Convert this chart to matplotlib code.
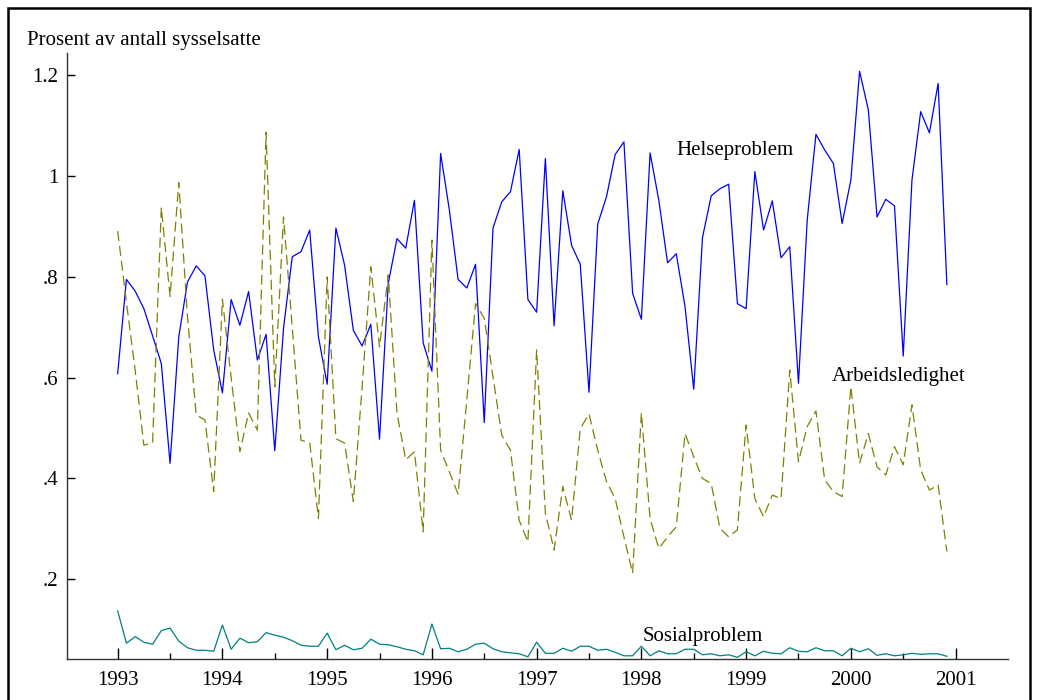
import numpy as np
import matplotlib
matplotlib.use("Agg")
import matplotlib.pyplot as plt
from matplotlib.patches import Rectangle
from matplotlib.ticker import FixedLocator, FuncFormatter

# Monthly shares (percent of employed), Jan 1993 - Dec 2000
START_YEAR = 1993
HELSE = [0.608, 0.795, 0.772, 0.737, 0.683, 0.628, 0.430, 0.681, 0.790, 0.822, 0.802, 0.655,
         0.570, 0.755, 0.704, 0.771, 0.635, 0.686, 0.455, 0.698, 0.840, 0.850, 0.893, 0.681,
         0.587, 0.897, 0.823, 0.694, 0.663, 0.706, 0.478, 0.787, 0.876, 0.857, 0.952, 0.669,
         0.613, 1.045, 0.933, 0.795, 0.778, 0.825, 0.511, 0.897, 0.949, 0.969, 1.053, 0.755,
         0.730, 1.035, 0.703, 0.971, 0.863, 0.825, 0.571, 0.905, 0.959, 1.043, 1.068, 0.767,
         0.716, 1.046, 0.952, 0.828, 0.846, 0.741, 0.577, 0.878, 0.961, 0.975, 0.984, 0.747,
         0.737, 1.009, 0.893, 0.951, 0.838, 0.860, 0.589, 0.913, 1.083, 1.052, 1.025, 0.906,
         0.992, 1.208, 1.132, 0.919, 0.954, 0.941, 0.643, 0.992, 1.128, 1.086, 1.184, 0.785]
ARBEID = [0.891, 0.750, 0.615, 0.466, 0.471, 0.938, 0.761, 0.987, 0.720, 0.526, 0.516, 0.374,
          0.756, 0.600, 0.453, 0.530, 0.496, 1.087, 0.582, 0.919, 0.700, 0.476, 0.471, 0.321,
          0.800, 0.479, 0.470, 0.354, 0.580, 0.820, 0.661, 0.804, 0.530, 0.437, 0.453, 0.294,
          0.873, 0.456, 0.413, 0.369, 0.556, 0.747, 0.718, 0.602, 0.486, 0.456, 0.317, 0.274,
          0.655, 0.331, 0.258, 0.384, 0.317, 0.499, 0.528, 0.456, 0.394, 0.360, 0.284, 0.212,
          0.530, 0.320, 0.261, 0.284, 0.304, 0.489, 0.443, 0.400, 0.390, 0.301, 0.284, 0.298,
          0.506, 0.360, 0.324, 0.367, 0.360, 0.615, 0.433, 0.503, 0.534, 0.397, 0.374, 0.364,
          0.582, 0.430, 0.489, 0.423, 0.407, 0.463, 0.427, 0.546, 0.417, 0.377, 0.387, 0.255]
SOSIAL = [0.137, 0.073, 0.086, 0.075, 0.071, 0.098, 0.103, 0.077, 0.064, 0.059, 0.059, 0.057,
          0.109, 0.061, 0.083, 0.074, 0.076, 0.094, 0.089, 0.085, 0.078, 0.069, 0.067, 0.067,
          0.093, 0.060, 0.069, 0.060, 0.063, 0.081, 0.071, 0.070, 0.066, 0.061, 0.058, 0.050,
          0.111, 0.062, 0.063, 0.056, 0.061, 0.071, 0.073, 0.062, 0.056, 0.054, 0.052, 0.046,
          0.075, 0.053, 0.053, 0.063, 0.057, 0.067, 0.067, 0.059, 0.061, 0.055, 0.048, 0.048,
          0.067, 0.048, 0.058, 0.052, 0.052, 0.061, 0.061, 0.050, 0.052, 0.048, 0.050, 0.045,
          0.056, 0.048, 0.057, 0.053, 0.052, 0.064, 0.057, 0.056, 0.064, 0.058, 0.058, 0.048,
          0.063, 0.056, 0.062, 0.049, 0.052, 0.048, 0.050, 0.053, 0.051, 0.052, 0.052, 0.047]

YEAR_TICKS = list(range(1993, 2002))
Y_TICKS = [0.2, 0.4, 0.6, 0.8, 1.0, 1.2]
Y_LABELS = [".2", ".4", ".6", ".8", "1", "1.2"]

plt.rcParams["font.family"] = ["Liberation Serif", "DejaVu Serif"]

t = START_YEAR + np.arange(len(HELSE)) / 12.0

fig = plt.figure(figsize=(10.37, 7.0), dpi=100)
ax = fig.add_axes([0.0646, 0.0586, 0.9074, 0.8654])

ax.plot(t, HELSE, color="#0000ff", lw=0.9)
ax.plot(t, ARBEID, color="#808000", lw=0.9, dashes=(8, 4))
ax.plot(t, SOSIAL, color="#008080", lw=0.9)

ax.set_xlim(1992.516, 2001.5)
ax.set_ylim(0.0417, 1.244)

for side in ("top", "right"):
    ax.spines[side].set_visible(False)
for side in ("left", "bottom"):
    ax.spines[side].set_linewidth(1.0)
    ax.spines[side].set_color("#333333")

ax.xaxis.set_major_locator(FixedLocator(YEAR_TICKS))
ax.xaxis.set_minor_locator(FixedLocator([y + 0.5 for y in YEAR_TICKS[:-1]]))
ax.xaxis.set_major_formatter(FuncFormatter(lambda v, p: f"{int(round(v))}"))
ax.set_yticks(Y_TICKS)
ax.set_yticklabels(Y_LABELS)

ax.tick_params(axis="x", which="major", direction="in", length=8, width=1, labelsize=15, pad=9)
ax.tick_params(axis="x", which="minor", direction="in", length=4, width=1)
ax.tick_params(axis="y", which="major", direction="in", length=6, width=1, labelsize=15, pad=6)

ax.text(1998.33, 1.05, "Helseproblem", fontsize=15, va="center", ha="left")
ax.text(1999.82, 0.603, "Arbeidsledighet", fontsize=15, va="center", ha="left")
ax.text(1998.015, 0.087, "Sosialproblem", fontsize=15, va="center", ha="left")
fig.text(27 / 1037, 1 - 40 / 700, "Prosent av antall sysselsatte", fontsize=15, va="center", ha="left")

# frame round the whole figure
fig.patches.append(Rectangle((8 / 1037, -0.05), 1022 / 1037, 1.05 - 8 / 700,
                             transform=fig.transFigure, fill=False, lw=1.8, color="black"))

fig.savefig("out.png", dpi=100)
